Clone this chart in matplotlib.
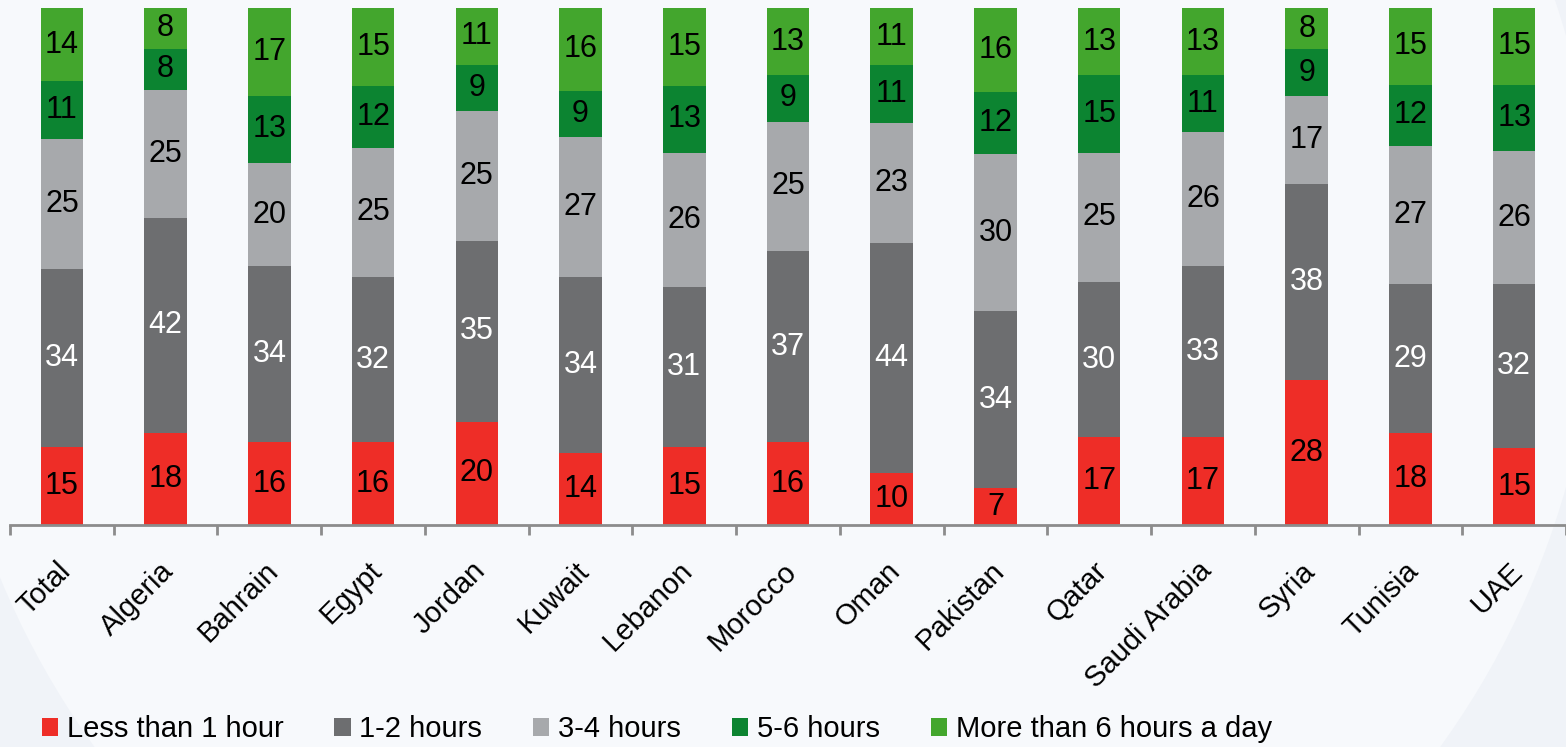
## stacked 100% bars: hours per day spent, by country
import numpy as np
from matplotlib import pyplot as plt
from matplotlib.patches import Ellipse

plt.rcParams['font.family'] = ['Liberation Sans', 'DejaVu Sans']

countries = ["Total", "Algeria", "Bahrain", "Egypt", "Jordan", "Kuwait", "Lebanon",
             "Morocco", "Oman", "Pakistan", "Qatar", "Saudi Arabia", "Syria",
             "Tunisia", "UAE"]

less_1h = [15, 18, 16, 16, 20, 14, 15, 16, 10, 7, 17, 17, 28, 18, 15]
h_1_2 = [34, 42, 34, 32, 35, 34, 31, 37, 44, 34, 30, 33, 38, 29, 32]
h_3_4 = [25, 25, 20, 25, 25, 27, 26, 25, 23, 30, 25, 26, 17, 27, 26]
h_5_6 = [11, 8, 13, 12, 9, 9, 13, 9, 11, 12, 15, 11, 9, 12, 13]
more_6h = [14, 8, 17, 15, 11, 16, 15, 13, 11, 16, 13, 13, 8, 15, 15]

series = [less_1h, h_1_2, h_3_4, h_5_6, more_6h]
names = ["Less than 1 hour", "1-2 hours", "3-4 hours", "5-6 hours",
         "More than 6 hours a day"]
colors = ["#ee2d27", "#6d6e70", "#a7a9ac", "#0c8431", "#43a62d"]
txtcol = ["black", "white", "black", "black", "black"]

vals = np.array(series, dtype=float)
share = vals / vals.sum(axis=0) * 100  # each bar fills the full height

fig = plt.figure(figsize=(15.66, 7.47), dpi=100, facecolor="#f0f3f8")
# soft lighter disc in the background
fig.patches.append(Ellipse((0.49, 0.65), 1.06, 2.22, transform=fig.transFigure,
                           facecolor="#f7f9fc", edgecolor="none", zorder=-10))
ax = fig.add_axes([0.0064, 0.2972, 0.9936, 0.6921])
ax.set_facecolor("none")

x = np.arange(len(countries))
bottom = np.zeros(len(countries))
for i in range(len(series)):
    ax.bar(x, share[i], 0.41, bottom=bottom, color=colors[i], label=names[i])
    for j in range(len(countries)):
        ax.text(x[j], bottom[j] + share[i][j] / 2, str(series[i][j]),
                ha="center", va="center", fontsize=22, color=txtcol[i])
    bottom += share[i]

ax.set_xlim(-0.5, len(countries) - 0.5)
ax.set_ylim(0, 100)
for s in ["top", "right", "left"]:
    ax.spines[s].set_visible(False)
ax.spines["bottom"].set_color("#8c8c8c")
ax.spines["bottom"].set_linewidth(2)
ax.set_yticks([])

# tick marks between categories, labels under each bar
ax.set_xticks(np.arange(len(countries) + 1) - 0.5)
ax.set_xticklabels([])
ax.tick_params(axis="x", length=7, width=2, color="#8c8c8c", direction="out")
for j in range(len(countries)):
    ax.annotate(countries[j], xy=(x[j], 0), xycoords=("data", "axes fraction"),
                xytext=(3, -30), textcoords="offset points", rotation=45,
                rotation_mode="anchor", ha="right", va="center", fontsize=21)

fig.legend(loc="lower left", bbox_to_anchor=(0.01, -0.03), ncol=5,
           frameon=False, fontsize=21, handlelength=0.55, handleheight=0.55,
           handletextpad=0.3, columnspacing=1.75)

plt.savefig("out.png", dpi=100, facecolor=fig.get_facecolor())
